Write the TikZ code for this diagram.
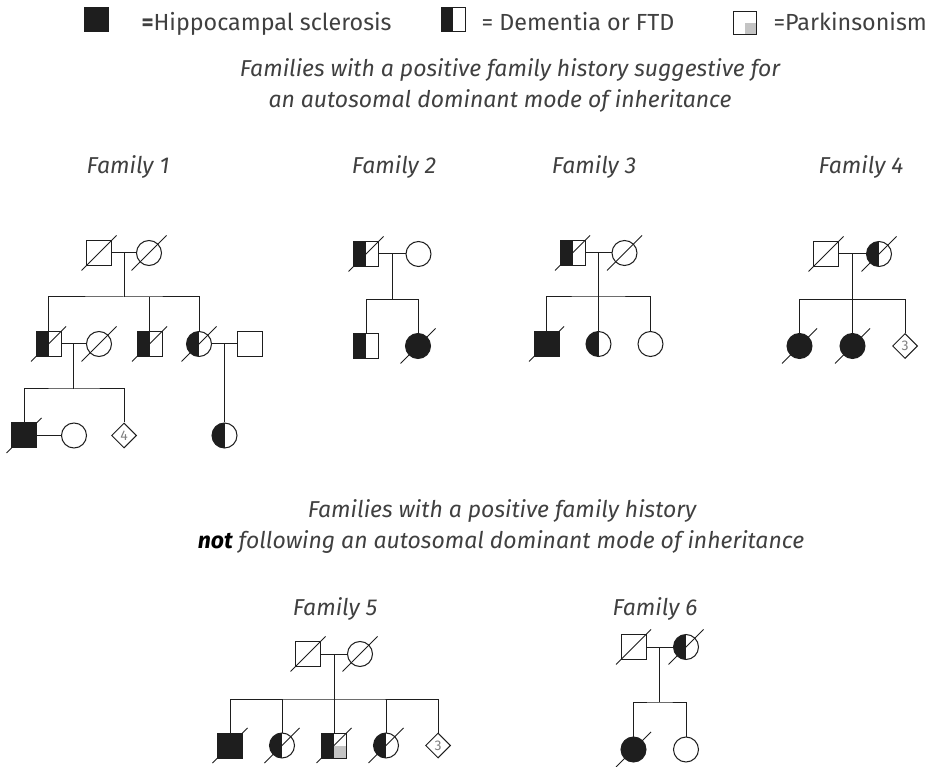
\documentclass[tikz,border=0pt]{standalone}
\usepackage{fontspec}
\setmainfont{Fira Sans}
\usetikzlibrary{shapes.geometric}

\definecolor{pedline}{HTML}{1E1E1E}
\definecolor{txtgrey}{HTML}{404040}
\definecolor{parkgrey}{HTML}{C4C4C4}

\tikzset{
	indiv/.style={draw=pedline, line width=1pt, inner sep=0pt, minimum size=25pt, fill=white},
	male/.style={indiv, rectangle},
	female/.style={indiv, circle},
	unknown/.style={indiv, diamond, font=\fontsize{14}{14}\selectfont, text=gray},
	affected/.style={fill=pedline},
	lefthalf/.style={path picture={\fill[pedline] (path picture bounding box.south west) rectangle (path picture bounding box.north);}},
	halfpark/.style={path picture={
		\fill[pedline] (path picture bounding box.south west) rectangle (path picture bounding box.north);
		\fill[parkgrey] (path picture bounding box.center) rectangle (path picture bounding box.south east);}},
	parkq/.style={path picture={\fill[parkgrey] (path picture bounding box.center) rectangle (path picture bounding box.south east);}},
	kin/.style={draw=pedline, line width=1pt},
	famlabel/.style={text=txtgrey, font=\fontsize{23}{27}\selectfont\itshape, anchor=base},
	legtext/.style={text=txtgrey, font=\fontsize{23.3}{27}\selectfont, anchor=base west}
}

\newcommand{\markdead}[1]{\draw[kin] ([shift={(-17.5,17.5)}]#1.center) -- ([shift={(17.5,-17.5)}]#1.center);}

\begin{document}
\begin{tikzpicture}[x=1pt, y=-1pt]
	\useasboundingbox (0,0) rectangle (930,767);
	
	% legend
	\node[male, affected, minimum size=24pt] (leg-hs) at (96,20) {};
	\node[legtext] (leg-hs-t) at (138,31) {\textbf{=}Hippocampal sclerosis};
	\node[male, lefthalf, minimum size=24pt] (leg-dem) at (453,20) {};
	\node[legtext] (leg-dem-t) at (478,31) {= Dementia or FTD};
	\node[male, parkq, minimum size=23pt] (leg-park) at (745,23) {};
	\node[legtext] (leg-park-t) at (770,31) {=Parkinsonism};
	
	% titles
	\node[famlabel] (title1a) at (510,77) {Families with a positive family history suggestive for};
	\node[famlabel] (title1b) at (500,108) {an autosomal dominant mode of inheritance};
	\node[famlabel] (title2a) at (502,518) {Families with a positive family history};
	\node[famlabel] (title2b) at (501,548) {\textcolor{black}{\textbf{not}} following an autosomal dominant mode of inheritance};
	
	\node[famlabel] (fam1) at (128,174) {Family 1};
	\node[famlabel] (fam2) at (394,174) {Family 2};
	\node[famlabel] (fam3) at (594,174) {Family 3};
	\node[famlabel] (fam4) at (861,174) {Family 4};
	\node[famlabel] (fam5) at (335,615) {Family 5};
	\node[famlabel] (fam6) at (655,615) {Family 6};
	
	% family 1
	\node[male] (f1-I1) at (99,253) {};
	\node[female] (f1-I2) at (149,253) {};
	\draw[kin] (f1-I1) -- coordinate (f1-m1) (f1-I2);
	\draw[kin] (f1-m1) -- ++(0,44) coordinate (f1-s1);
	\node[male, lefthalf] (f1-II1) at (48.5,344) {};
	\node[female] (f1-II2) at (99,344) {};
	\node[male, lefthalf] (f1-II3) at (149.5,344) {};
	\node[female, lefthalf] (f1-II4) at (199,344) {};
	\node[male] (f1-II5) at (250,344) {};
	\draw[kin] (f1-II1.north) |- (f1-s1) -| (f1-II4.north);
	\draw[kin] (f1-II3.north) -- (f1-II3.north |- f1-s1);
	\draw[kin] (f1-II1) -- coordinate (f1-m2) (f1-II2);
	\draw[kin] (f1-II4) -- coordinate (f1-m3) (f1-II5);
	\draw[kin] (f1-m2) -- ++(0,45) coordinate (f1-s2);
	\node[male, affected] (f1-III1) at (24,435.5) {};
	\node[female] (f1-III2) at (74,435.5) {};
	\node[unknown] (f1-III3) at (124,435.5) {4};
	\node[female, lefthalf] (f1-III4) at (224.5,435.5) {};
	\draw[kin] (f1-III1.north) |- (f1-s2) -| (f1-III3.north);
	\draw[kin] (f1-III1) -- (f1-III2);
	\draw[kin] (f1-m3) -- (f1-m3 |- f1-III4.north);
	
	% family 2
	\node[male, lefthalf] (f2-I1) at (366,254) {};
	\node[female] (f2-I2) at (418.5,254) {};
	\draw[kin] (f2-I1) -- coordinate (f2-m1) (f2-I2);
	\draw[kin] (f2-m1) -- ++(0,45.5) coordinate (f2-s1);
	\node[male, lefthalf] (f2-II1) at (366,346) {};
	\node[female, affected] (f2-II2) at (418,346) {};
	\draw[kin] (f2-II1.north) |- (f2-s1) -| (f2-II2.north);
	
	% family 3
	\node[male, lefthalf] (f3-I1) at (572.5,253) {};
	\node[female] (f3-I2) at (624.5,253) {};
	\draw[kin] (f3-I1) -- coordinate (f3-m1) (f3-I2);
	\draw[kin] (f3-m1) -- ++(0,44) coordinate (f3-s1);
	\node[male, affected] (f3-II1) at (546.5,344) {};
	\node[female, lefthalf] (f3-II2) at (598.5,344) {};
	\node[female] (f3-II3) at (650.5,344) {};
	\draw[kin] (f3-II1.north) |- (f3-s1) -| (f3-II3.north);
	\draw[kin] (f3-s1) -- (f3-II2.north);
	
	% family 4
	\node[male] (f4-I1) at (826,254) {};
	\node[female, lefthalf] (f4-I2) at (879,254) {};
	\draw[kin] (f4-I1) -- coordinate (f4-m1) (f4-I2);
	\draw[kin] (f4-m1) -- ++(0,45.5) coordinate (f4-s1);
	\node[female, affected] (f4-II1) at (799.5,346) {};
	\node[female, affected] (f4-II2) at (852.5,346) {};
	\node[unknown] (f4-II3) at (905,346) {3};
	\draw[kin] (f4-II1.north) |- (f4-s1) -| (f4-II3.north);
	\draw[kin] (f4-s1) -- (f4-II2.north);
	
	% family 5
	\node[male] (f5-I1) at (308,654) {};
	\node[female] (f5-I2) at (360,654) {};
	\draw[kin] (f5-I1) -- coordinate (f5-m1) (f5-I2);
	\draw[kin] (f5-m1) -- ++(0,45) coordinate (f5-s1);
	\node[male, affected] (f5-II1) at (230,745.5) {};
	\node[female, lefthalf] (f5-II2) at (282,745.5) {};
	\node[male, halfpark] (f5-II3) at (334,745.5) {};
	\node[female, lefthalf] (f5-II4) at (386,745.5) {};
	\node[unknown] (f5-II5) at (438,745.5) {3};
	\draw[kin] (f5-II1.north) |- (f5-s1) -| (f5-II5.north);
	\foreach \c in {f5-II2,f5-II3,f5-II4}
	\draw[kin] (\c.north) -- (\c.north |- f5-s1);
	
	% family 6
	\node[male] (f6-I1) at (633.5,647) {};
	\node[female, lefthalf] (f6-I2) at (686,647) {};
	\draw[kin] (f6-I1) -- coordinate (f6-m1) (f6-I2);
	\draw[kin] (f6-m1) -- ++(0,55) coordinate (f6-s1);
	\node[female, affected] (f6-II1) at (633.5,749.5) {};
	\node[female] (f6-II2) at (686,749.5) {};
	\draw[kin] (f6-II1.north) |- (f6-s1) -| (f6-II2.north);
	
	% deceased
	\foreach \n in {f1-I1,f1-I2,f1-II1,f1-II2,f1-II3,f1-II4,f1-III1,f2-I1,f2-II2,f3-I1,f3-I2,f3-II1,f4-I1,f4-I2,f4-II1,f4-II2,f5-I1,f5-I2,f5-II1,f5-II2,f5-II3,f5-II4,f6-I1,f6-I2,f6-II1}
	{\markdead{\n}}
\end{tikzpicture}
\end{document}
